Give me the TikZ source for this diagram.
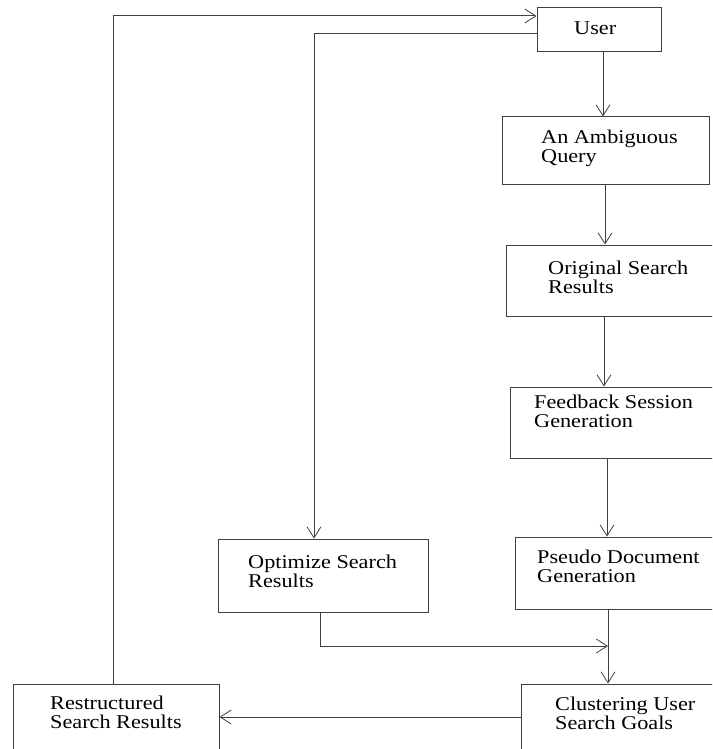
\documentclass[tikz,border=0pt]{standalone}
\usepackage{fontspec}
\setmainfont{Liberation Serif}
\usetikzlibrary{arrows.meta}
\definecolor{ln}{HTML}{404040}
\tikzset{
  box/.style={draw=ln, line width=1pt, rectangle, inner sep=0pt},
  txt/.style={anchor=base west, inner sep=0pt, align=left, font=\fontsize{19.5}{18.5}\selectfont},
  arr/.style={draw=ln, line width=1pt, -{Straight Barb[length=11pt,width=14pt,line width=0.8pt]}},
  ln/.style={draw=ln, line width=1pt}
}
\newcommand{\tx}[1]{\scalebox{1.14}[1]{#1}}
\begin{document}
\begin{tikzpicture}[x=1pt,y=-1pt]
\clip (0,0) rectangle (712,749);
\fill[white] (0,0) rectangle (712,749);
% boxes
\node[box, minimum width=124pt, minimum height=44pt] (user) at (599,30) {};
\node[box, minimum width=207pt, minimum height=67pt] (amb) at (605.5,150.5) {};
\node[box, minimum width=212pt, minimum height=71pt] (orig) at (612,280.5) {};
\node[box, minimum width=208pt, minimum height=71pt] (feed) at (614,422.5) {};
\node[box, minimum width=203pt, minimum height=72pt] (pseudo) at (616.5,573) {};
\node[box, minimum width=197pt, minimum height=80pt] (clus) at (619.5,724) {};
\node[box, minimum width=210pt, minimum height=73pt] (opt) at (323,575.5) {};
\node[box, minimum width=206pt, minimum height=80pt] (rest) at (116,724) {};
% texts (base anchor = baseline of last line)
\node[txt] (tuser) at (574,35) {\tx{User}};
\node[txt] (tamb) at (541,162) {\tx{An Ambiguous}\\\tx{Query}};
\node[txt] (torig) at (548,293) {\tx{Original Search}\\\tx{Results}};
\node[txt] (tfeed) at (534,427) {\tx{Feedback Session}\\\tx{Generation}};
\node[txt] (tpseudo) at (537,582) {\tx{Pseudo Document}\\\tx{Generation}};
\node[txt] (tclus) at (555,729) {\tx{Clustering User}\\\tx{Search Goals}};
\node[txt] (topt) at (248,587) {\tx{Optimize Search}\\\tx{Results}};
\node[txt] (trest) at (50,728) {\tx{Restructured}\\\tx{Search Results}};
% coordinates
\coordinate (c1) at (113,16);
\coordinate (c2) at (314,34);
\coordinate (c3) at (320,646);
\coordinate (c4) at (608,646);
% connectors
\draw[arr] (user.south -| 603,0) -- (amb.north -| 603,0);
\draw[arr] (amb.south -| 605,0) -- (orig.north -| 605,0);
\draw[arr] (orig.south -| 604,0) -- (feed.north -| 604,0);
\draw[arr] (feed.south -| 607,0) -- (pseudo.north -| 607,0);
\draw[arr] (pseudo.south -| 608,0) -- (clus.north -| 608,0);
\draw[arr] (opt.south -| c3) -- (c3) -- (c4);
\draw[arr] (clus.west |- 0,717) -- (rest.east |- 0,717);
\draw[arr] (rest.north -| c1) -- (c1) -- (user.west |- c1);
\draw[arr] (user.west |- c2) -- (c2) -- (opt.north -| c2);
\end{tikzpicture}
\end{document}
